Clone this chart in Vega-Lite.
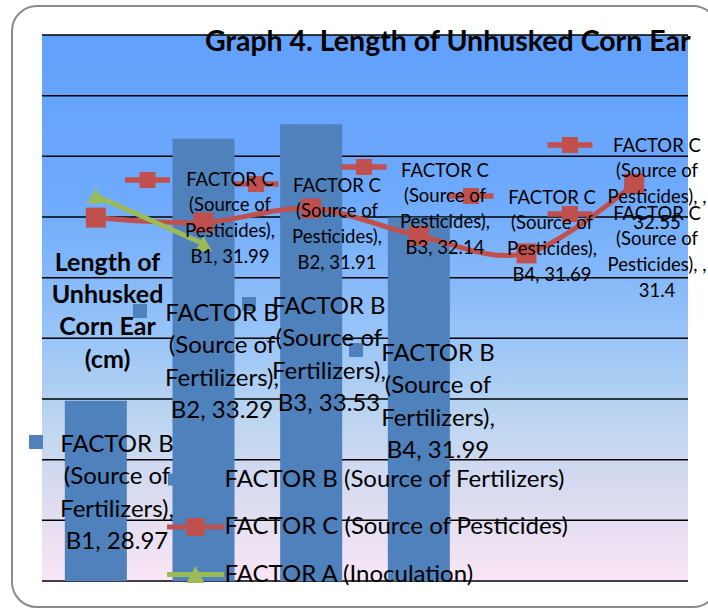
{
  "$schema": "https://vega.github.io/schema/vega-lite/v6.json",
  "width": 706,
  "height": 601,
  "autosize": {"type": "none"},
  "padding": {"left": 12, "top": 6, "right": -10, "bottom": 2},
  "background": "white",
  "title": {"text": "Graph 4. Length of Unhusked Corn Ear", "anchor": "start", "dx": 193, "dy": 64, "offset": 0, "baseline": "middle", "font": "Lato", "fontSize": 28.5, "fontWeight": "bold", "color": "black"},
  "data": {"values": [
    {"series": "FACTOR B (Source of Fertilizers)", "cat": "B1", "value": 28.97, "label": "FACTOR B\n(Source of\nFertilizers),\nB1, 28.97"},
    {"series": "FACTOR B (Source of Fertilizers)", "cat": "B2", "value": 33.29, "label": "FACTOR B\n(Source of\nFertilizers),\nB2, 33.29"},
    {"series": "FACTOR B (Source of Fertilizers)", "cat": "B3", "value": 33.53, "label": "FACTOR B\n(Source of\nFertilizers),\nB3, 33.53"},
    {"series": "FACTOR B (Source of Fertilizers)", "cat": "B4", "value": 31.99, "label": "FACTOR B\n(Source of\nFertilizers),\nB4, 31.99"},
    {"series": "FACTOR C (Source of Pesticides)", "cat": "B1", "value": 31.99, "label": "FACTOR C\n(Source of\nPesticides),\nB1, 31.99"},
    {"series": "FACTOR C (Source of Pesticides)", "cat": "B2", "value": 31.91, "label": "FACTOR C\n(Source of\nPesticides),\nB2, 31.91"},
    {"series": "FACTOR C (Source of Pesticides)", "cat": "B3", "value": 32.14, "label": "FACTOR C\n(Source of\nPesticides),\nB3, 32.14"},
    {"series": "FACTOR C (Source of Pesticides)", "cat": "B4", "value": 31.69, "label": "FACTOR C\n(Source of\nPesticides),\nB4, 31.69"},
    {"series": "FACTOR C (Source of Pesticides)", "cat": " ", "value": 31.4, "label": "FACTOR C\n(Source of\nPesticides), ,\n31.4"},
    {"series": "FACTOR C (Source of Pesticides)", "cat": "  ", "value": 32.55, "label": "FACTOR C\n(Source of\nPesticides), ,\n32.55"},
    {"series": "FACTOR A (Inoculation)", "cat": "B1", "value": 32.35, "label": ""},
    {"series": "FACTOR A (Inoculation)", "cat": "B2", "value": 31.56, "label": ""}
  ]},
  "layer": [
    {
      "data": {"values": [{"lo": 26, "hi": 35}]},
      "mark": {"type": "rect", "fill": {"gradient": "linear", "x1": 0, "y1": 0, "x2": 0, "y2": 1, "stops": [
        {"offset": 0, "color": "#61a0fc"},
        {"offset": 0.3, "color": "#6eaafc"},
        {"offset": 0.55, "color": "#98c4f8"},
        {"offset": 0.7, "color": "#bcd5f0"},
        {"offset": 0.85, "color": "#dcdcf0"},
        {"offset": 1, "color": "#fae6f6"}
      ]}},
      "encoding": {
        "x": {"datum": "B1", "type": "nominal", "bandPosition": 0, "axis": null, "scale": {"domain": ["B1", "B2", "B3", "B4", " ", "  "], "paddingInner": 0, "paddingOuter": 0.2786}},
        "x2": {"datum": "  ", "bandPosition": 1},
        "y": {"field": "lo", "type": "quantitative", "scale": {"domain": [25.571, 35.478], "nice": false, "zero": false}},
        "y2": {"field": "hi"}
      }
    },
    {
      "data": {"values": [{"g": 26}, {"g": 27}, {"g": 28}, {"g": 29}, {"g": 30}, {"g": 31}, {"g": 32}, {"g": 33}, {"g": 34}, {"g": 35}]},
      "mark": {"type": "rule", "color": "black", "strokeWidth": 1.5},
      "encoding": {
        "x": {"datum": "B1", "type": "nominal", "bandPosition": 0, "axis": null},
        "x2": {"datum": "  ", "bandPosition": 1},
        "y": {"field": "g", "type": "quantitative"}
      }
    },
    {
      "transform": [{"filter": "datum.series == 'FACTOR B (Source of Fertilizers)'"}],
      "mark": {"type": "bar", "width": {"band": 0.576}},
      "encoding": {
        "x": {"field": "cat", "type": "nominal", "axis": null, "sort": null},
        "y": {"field": "value", "type": "quantitative", "axis": {"title": ["Length of", "Unhusked", "Corn Ear", "(cm)"], "zindex": 2, "titleAngle": 0, "titleX": 95, "titleY": 256, "titleAlign": "center", "titleBaseline": "middle", "titleFont": "Lato", "titleFontSize": 25, "titleFontWeight": "bold", "titleLineHeight": 32.4, "titleColor": "black", "labels": false, "ticks": false, "domain": false, "grid": false}},
        "y2": {"datum": 26},
        "color": {"field": "series", "type": "nominal",
          "scale": {"domain": ["FACTOR B (Source of Fertilizers)", "FACTOR C (Source of Pesticides)", "FACTOR A (Inoculation)"], "range": ["#4f81bd", "#c0504d", "#9bbb59"]},
          "legend": {"orient": "none", "legendX": 171.5, "legendY": 461.5, "direction": "vertical", "title": null, "padding": 0, "symbolSize": 400, "symbolStrokeWidth": 0, "labelOffset": 17, "labelFont": "Lato", "labelFontSize": 24, "labelColor": "black", "labelLimit": 600, "rowPadding": 23.5,
            "encode": {"symbols": {"update": {
              "shape": {"signal": "datum.value == 'FACTOR B (Source of Fertilizers)' ? 'M-2.75,-0.6H-1.55V0.6H-2.75Z' : datum.value == 'FACTOR C (Source of Pesticides)' ? 'M-2.85,-0.25H2.85V0.25H-2.85Z M-0.9,-0.9H0.9V0.9H-0.9Z' : 'M-2.85,-0.25H2.85V0.25H-2.85Z M0,-0.85L0.9,0.85H-0.9Z'"},
              "fill": {"scale": "color", "field": "value"},
              "stroke": {"value": "transparent"},
              "opacity": {"value": 1}
            }}}
          }
        }
      }
    },
    {
      "transform": [{"filter": "datum.series == 'FACTOR C (Source of Pesticides)'"}],
      "mark": {"type": "line", "strokeWidth": 5, "interpolate": "cardinal"},
      "encoding": {
        "x": {"field": "cat", "type": "nominal", "axis": null, "sort": null},
        "y": {"field": "value", "type": "quantitative"},
        "color": {"field": "series", "type": "nominal"}
      }
    },
    {
      "transform": [{"filter": "datum.series == 'FACTOR C (Source of Pesticides)'"}],
      "mark": {"type": "point", "shape": "square", "filled": true, "size": 400, "opacity": 1, "color": "#c0504d", "strokeWidth": 0},
      "encoding": {
        "x": {"field": "cat", "type": "nominal", "axis": null, "sort": null},
        "y": {"field": "value", "type": "quantitative"}
      }
    },
    {
      "transform": [{"filter": "datum.series == 'FACTOR A (Inoculation)'"}],
      "mark": {"type": "line", "strokeWidth": 5},
      "encoding": {
        "x": {"field": "cat", "type": "nominal", "axis": null, "sort": null},
        "y": {"field": "value", "type": "quantitative"},
        "color": {"field": "series", "type": "nominal"}
      }
    },
    {
      "transform": [{"filter": "datum.series == 'FACTOR A (Inoculation)'"}],
      "mark": {"type": "point", "shape": "triangle-up", "filled": true, "size": 300, "opacity": 1, "color": "#9bbb59", "strokeWidth": 0},
      "encoding": {
        "x": {"field": "cat", "type": "nominal", "axis": null, "sort": null},
        "y": {"field": "value", "type": "quantitative"}
      }
    },
    {
      "transform": [{"filter": "datum.series == 'FACTOR B (Source of Fertilizers)'"}],
      "encoding": {
        "x": {"field": "cat", "type": "nominal", "axis": null, "sort": null},
        "y": {"field": "value", "type": "quantitative"},
        "text": {"field": "label"}
      },
      "layer": [
        {"transform": [{"filter": "datum.cat == 'B1'"}], "mark": {"type": "point", "shape": "square", "filled": true, "size": 196, "opacity": 1, "color": "#4f81bd", "strokeWidth": 0, "xOffset": -59.8, "yOffset": 41.2}},
        {"transform": [{"filter": "datum.cat == 'B2'"}], "mark": {"type": "point", "shape": "square", "filled": true, "size": 196, "opacity": 1, "color": "#4f81bd", "strokeWidth": 0, "xOffset": -63.5, "yOffset": 172.3}},
        {"transform": [{"filter": "datum.cat == 'B3'"}], "mark": {"type": "point", "shape": "square", "filled": true, "size": 196, "opacity": 1, "color": "#4f81bd", "strokeWidth": 0, "xOffset": -62.2, "yOffset": 179.8}},
        {"transform": [{"filter": "datum.cat == 'B4'"}], "mark": {"type": "point", "shape": "square", "filled": true, "size": 196, "opacity": 1, "color": "#4f81bd", "strokeWidth": 0, "xOffset": -62.8, "yOffset": 132.4}},
        {"transform": [{"filter": "datum.cat == 'B1'"}], "mark": {"type": "text", "fontSize": 24, "lineHeight": 32.5, "dx": 21.2, "dy": 50.8}},
        {"transform": [{"filter": "datum.cat == 'B2'"}], "mark": {"type": "text", "fontSize": 24, "lineHeight": 32.5, "dx": 18.5, "dy": 181.9}},
        {"transform": [{"filter": "datum.cat == 'B3'"}], "mark": {"type": "text", "fontSize": 24, "lineHeight": 32.5, "dx": 17.8, "dy": 189.4}},
        {"transform": [{"filter": "datum.cat == 'B4'"}], "mark": {"type": "text", "fontSize": 24, "lineHeight": 32.5, "dx": 19.2, "dy": 143}}
      ]
    },
    {
      "transform": [{"filter": "datum.series == 'FACTOR C (Source of Pesticides)'"}],
      "encoding": {
        "x": {"field": "cat", "type": "nominal", "axis": null, "sort": null},
        "y": {"field": "value", "type": "quantitative"},
        "text": {"field": "label"}
      },
      "layer": [
        {"transform": [{"filter": "datum.cat == 'B1'"}], "mark": {"type": "point", "shape": "M-2.25,-0.28H2.25V0.28H-2.25Z M-0.8,-0.8H0.8V0.8H-0.8Z", "filled": true, "size": 400, "opacity": 1, "color": "#c0504d", "strokeWidth": 0, "xOffset": 51.7, "yOffset": -37.6}},
        {"transform": [{"filter": "datum.cat == 'B2'"}], "mark": {"type": "point", "shape": "M-2.25,-0.28H2.25V0.28H-2.25Z M-0.8,-0.8H0.8V0.8H-0.8Z", "filled": true, "size": 400, "opacity": 1, "color": "#c0504d", "strokeWidth": 0, "xOffset": 52.5, "yOffset": -38.5}},
        {"transform": [{"filter": "datum.cat == 'B3'"}], "mark": {"type": "point", "shape": "M-2.25,-0.28H2.25V0.28H-2.25Z M-0.8,-0.8H0.8V0.8H-0.8Z", "filled": true, "size": 400, "opacity": 1, "color": "#c0504d", "strokeWidth": 0, "xOffset": 52.8, "yOffset": -41.5}},
        {"transform": [{"filter": "datum.cat == 'B4'"}], "mark": {"type": "point", "shape": "M-2.25,-0.28H2.25V0.28H-2.25Z M-0.8,-0.8H0.8V0.8H-0.8Z", "filled": true, "size": 400, "opacity": 1, "color": "#c0504d", "strokeWidth": 0, "xOffset": 52.2, "yOffset": -39.8}},
        {"transform": [{"filter": "datum.cat == ' '"}], "mark": {"type": "point", "shape": "M-2.25,-0.28H2.25V0.28H-2.25Z M-0.8,-0.8H0.8V0.8H-0.8Z", "filled": true, "size": 400, "opacity": 1, "color": "#c0504d", "strokeWidth": 0, "xOffset": 43.5, "yOffset": -39.4}},
        {"transform": [{"filter": "datum.cat == '  '"}], "mark": {"type": "point", "shape": "M-2.25,-0.28H2.25V0.28H-2.25Z M-0.8,-0.8H0.8V0.8H-0.8Z", "filled": true, "size": 400, "opacity": 1, "color": "#c0504d", "strokeWidth": 0, "xOffset": -64.2, "yOffset": -38.6}},
        {"transform": [{"filter": "datum.cat == 'B1'"}], "mark": {"type": "text", "fontSize": 18.5, "lineHeight": 25.8, "dx": 134.2, "dy": -32}},
        {"transform": [{"filter": "datum.cat == 'B2'"}], "mark": {"type": "text", "fontSize": 18.5, "lineHeight": 25.8, "dx": 133.5, "dy": -30.9}},
        {"transform": [{"filter": "datum.cat == 'B3'"}], "mark": {"type": "text", "fontSize": 18.5, "lineHeight": 25.8, "dx": 133.8, "dy": -31.9}},
        {"transform": [{"filter": "datum.cat == 'B4'"}], "mark": {"type": "text", "fontSize": 18.5, "lineHeight": 25.8, "dx": 133.2, "dy": -32.2}},
        {"transform": [{"filter": "datum.cat == ' '"}], "mark": {"type": "text", "fontSize": 18.5, "lineHeight": 25.8, "dx": 130.5, "dy": -33.8}},
        {"transform": [{"filter": "datum.cat == '  '"}], "mark": {"type": "text", "fontSize": 18.5, "lineHeight": 25.8, "dx": 22.8, "dy": -32}}
      ]
    }
  ],
  "config": {
    "view": {"stroke": "#8a8a8a", "strokeWidth": 2, "cornerRadius": 25, "fill": "white"},
    "axisX": {"disable": true},
    "axisY": {"labels": false, "ticks": false, "domain": false, "grid": false},
    "text": {"font": "Lato", "lineBreak": "\n", "align": "center", "baseline": "alphabetic", "color": "black"}
  }
}
